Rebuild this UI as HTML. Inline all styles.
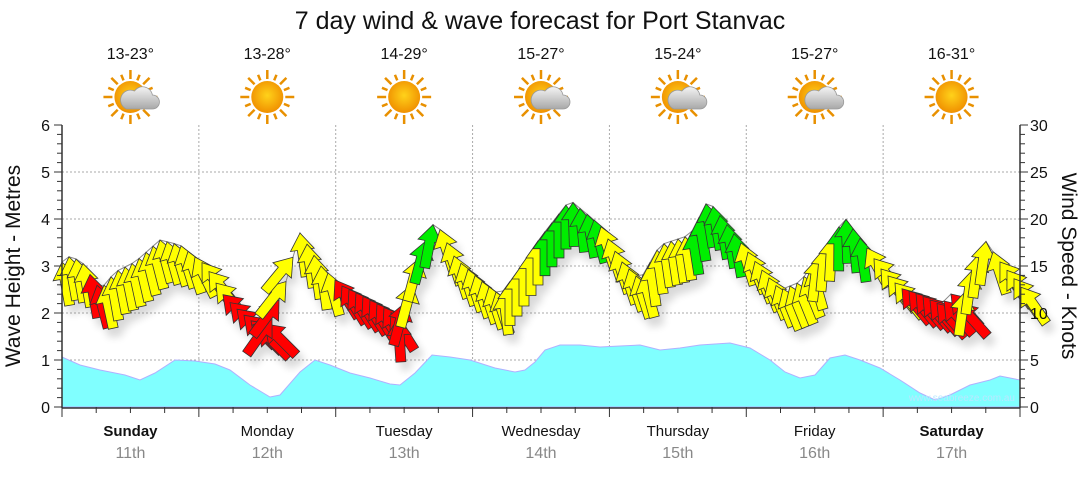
<!DOCTYPE html>
<html><head><meta charset="utf-8"><style>
body{margin:0;background:#fff;width:1080px;height:475px;overflow:hidden;font-family:"Liberation Sans","DejaVu Sans",sans-serif}
</style></head><body>
<svg id="s" width="1080" height="475" xmlns="http://www.w3.org/2000/svg" font-family="Liberation Sans, DejaVu Sans, sans-serif">
<defs>
<filter id="sh" x="-30%" y="-30%" width="160%" height="160%"><feGaussianBlur in="SourceAlpha" stdDeviation="4"/><feOffset dx="5" dy="8"/><feComponentTransfer><feFuncA type="linear" slope="0.15"/></feComponentTransfer><feMerge><feMergeNode/><feMergeNode in="SourceGraphic"/></feMerge></filter>
<radialGradient id="sun" cx="50%" cy="45%" r="55%"><stop offset="0" stop-color="#ffd21a"/><stop offset="1" stop-color="#f09000"/></radialGradient>
<linearGradient id="cl" x1="0" y1="0" x2="0" y2="1"><stop offset="0" stop-color="#f4f4f4"/><stop offset="1" stop-color="#a8a8a8"/></linearGradient>
</defs>
<text x="540" y="29" font-size="25" text-anchor="middle" fill="#111">7 day wind &amp; wave forecast for Port Stanvac</text>
<g id="hdr"></g>
<g id="grid"></g>
<path id="wave" fill="#80ffff" stroke="#b0b0ff" stroke-width="1"/>
<text x="1015" y="401" font-size="10" fill="#b8e8ff" text-anchor="end">www.seabreeze.com.au</text>
<g id="arr" filter="url(#sh)"></g>
<g id="ax"></g>
</svg>
<script>
const NS="http://www.w3.org/2000/svg";
function el(p,t,a,txt){const e=document.createElementNS(NS,t);for(const k in a)e.setAttribute(k,a[k]);if(txt!==undefined)e.textContent=txt;p.appendChild(e);return e;}
const X0=62,X1=1020,Y0=407,Y6=125,dw=(X1-X0)/7;
const g=document.getElementById('grid');
for(let i=1;i<=5;i++){const y=Y0-i*(Y0-Y6)/6;el(g,'line',{x1:X0,x2:X1,y1:y,y2:y,stroke:'#aaa','stroke-dasharray':'2,2'});}
for(let i=1;i<7;i++){const x=X0+i*dw;el(g,'line',{x1:x,x2:x,y1:Y6,y2:Y0,stroke:'#aaa','stroke-dasharray':'2,2'});}
const ax=document.getElementById('ax');
el(ax,'line',{x1:X0,x2:X0,y1:Y6,y2:Y0+1,stroke:'#333','stroke-width':1.5});
el(ax,'line',{x1:X1,x2:X1,y1:Y6,y2:Y0+1,stroke:'#333','stroke-width':1.5});
el(ax,'line',{x1:X0,x2:X1,y1:Y0+1,y2:Y0+1,stroke:'#333','stroke-width':1.5});
for(let i=0;i<=30;i++){const y=Y0-i*(Y0-Y6)/30;const big=i%5==0;
 el(ax,'line',{x1:X0-(big?8:5),x2:X0,y1:y,y2:y,stroke:'#333'});
 el(ax,'line',{x1:X1,x2:X1+(big?8:5),y1:y,y2:y,stroke:'#333'});}
for(let i=0;i<=6;i++){const y=Y0-i*(Y0-Y6)/6;el(ax,'text',{x:50,y:y+6,'font-size':16,'text-anchor':'end',fill:'#111'},i);}
for(let i=0;i<=30;i+=5){const y=Y0-i*(Y0-Y6)/30;el(ax,'text',{x:1030,y:y+6,'font-size':16,fill:'#111'},i);}
for(let i=0;i<=28;i++){const x=X0+i*dw/4;el(ax,'line',{x1:x,x2:x,y1:Y0,y2:Y0+(i%4==0?10:6),stroke:'#333'});}
el(ax,'text',{x:20,y:266,'font-size':21,'text-anchor':'middle',transform:'rotate(-90 20 266)',fill:'#111'},'Wave Height - Metres');
el(ax,'text',{x:1062,y:266,'font-size':21,'text-anchor':'middle',transform:'rotate(90 1062 266)',fill:'#111'},'Wind Speed - Knots');
const days=['Sunday','Monday','Tuesday','Wednesday','Thursday','Friday','Saturday'],dates=['11th','12th','13th','14th','15th','16th','17th'],temps=['13-23°','13-28°','14-29°','15-27°','15-24°','15-27°','16-31°'],cloud=[1,0,0,1,1,1,0];
const h=document.getElementById('hdr');
for(let i=0;i<7;i++){const cx=X0+dw*(i+0.5);
 el(ax,'text',{x:cx,y:436,'font-size':15,'text-anchor':'middle',fill:'#111','font-weight':(i==0||i==6)?'bold':'normal'},days[i]);
 el(ax,'text',{x:cx,y:458,'font-size':16,'text-anchor':'middle',fill:'#888'},dates[i]);
 el(h,'text',{x:cx,y:59,'font-size':16,'text-anchor':'middle',fill:'#111'},temps[i]);
 const sx=cx,sy=97;
 for(let k=0;k<16;k++){const a=k*Math.PI/8,r1=18,r2=k%2?24:27;el(h,'line',{x1:sx+r1*Math.cos(a),y1:sy+r1*Math.sin(a),x2:sx+r2*Math.cos(a),y2:sy+r2*Math.sin(a),stroke:'#e89000','stroke-width':2.5});}
 el(h,'circle',{cx:sx,cy:sy,r:16,fill:'url(#sun)'});
 if(cloud[i]){el(h,'path',{d:`M${sx-4} ${sy+12} h26 a7 7 0 0 0 0-14 a10 10 0 0 0-18-4 a7 7 0 0 0-8 18z`,fill:'url(#cl)',stroke:'#999','stroke-width':0.8});}
}
const W=[[62,357],[80,365],[100,370],[125,375],[140,380],[155,373],[175,360],[195,361],[215,364],[230,370],[250,385],[270,397],[280,395],[300,372],[315,360],[330,365],[350,373],[370,378],[390,384],[400,385],[415,373],[432,355],[450,357],[470,360],[495,368],[515,372],[525,370],[535,362],[545,350],[560,345],[580,345],[600,347],[620,346],[640,345],[660,350],[680,348],[700,345],[730,343],[750,348],[770,360],[785,372],[800,378],[815,375],[830,358],[845,355],[860,360],[880,368],[900,380],[920,393],[935,400],[950,395],[970,385],[990,380],[1000,376],[1010,378],[1020,380]];
document.getElementById('wave').setAttribute('d','M62 407 '+W.map(p=>'L'+p[0]+' '+p[1]).join(' ')+' L1020 407Z');
const K=[[62,262],[70,256],[82,262],[100,290],[115,272],[135,262],[160,240],[180,245],[205,265],[225,298],[240,312],[260,328],[272,318],[285,285],[300,233],[320,265],[340,285],[360,295],[385,308],[398,318],[410,292],[420,255],[435,220],[455,258],[480,280],[500,295],[520,268],[540,238],[570,200],[600,225],[620,260],[640,280],[660,245],[690,235],[708,200],[735,235],[760,268],[780,290],[800,282],[820,255],[845,218],[865,245],[880,268],[900,288],[920,295],[940,305],[955,290],[960,312],[968,280],[985,240],[1000,262],[1025,292]];
const A=[[62,-10],[90,-10],[96,-15],[110,-10],[190,-18],[200,-35],[215,-40],[225,-45],[268,-45],[272,35],[295,40],[300,-8],[325,-8],[335,-32],[395,-32],[400,15],[432,15],[440,-18],[500,-18],[505,0],[570,0],[600,-18],[640,-18],[650,-8],[735,-10],[745,-22],[810,-22],[815,8],[830,4],[860,-8],[870,-38],[960,-42],[965,8],[990,8],[995,-35],[1025,-35]];
function interp(T,x){for(let i=1;i<T.length;i++)if(x<=T[i][0]){const a=T[i-1],b=T[i];return a[1]+(b[1]-a[1])*(x-a[0])/(b[0]-a[0]);}return T[T.length-1][1];}
function col(x){if((x>=90&&x<=100)||(x>=222&&x<=285)||(x>=335&&x<=405)||(x>=900&&x<=962))return '#ff0000';
 if((x>=425&&x<=438)||(x>=545&&x<=600)||(x>=690&&x<=738)||(x>=835&&x<=862))return '#00ee00';return '#ffff00';}
const ar=document.getElementById('arr');
const pts=[];for(let x=62;x<=1025;x+=7)pts.push([x,interp(K,x)]);
el(ar,'polyline',{points:pts.map(p=>p.join(',')).join(' '),fill:'none',stroke:'#888','stroke-width':1});
for(const [x,y] of pts){const a=interp(A,x);
 el(ar,'polygon',{points:'0,0 12,17 5,17 5,44 -5,44 -5,17 -12,17',transform:`translate(${x},${y}) rotate(${a})`,fill:col(x),stroke:'#333','stroke-width':0.8});}
</script>
</body></html>
